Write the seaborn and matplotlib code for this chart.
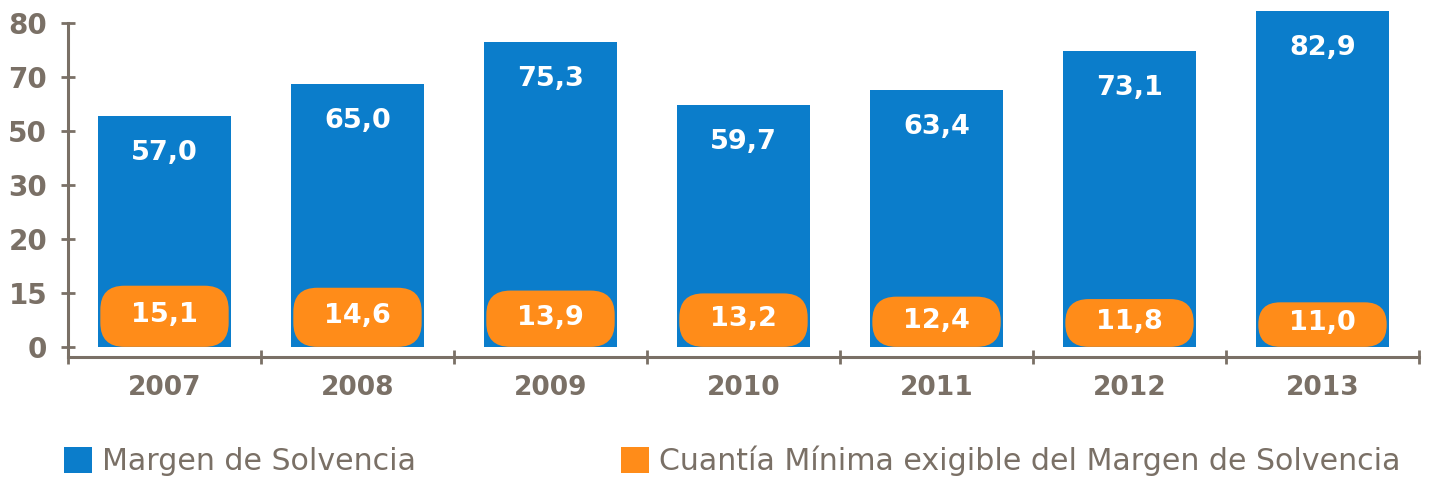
import matplotlib
matplotlib.use('Agg')
import matplotlib.pyplot as plt
import seaborn as sns
import pandas as pd
import numpy as np
from matplotlib.patches import FancyBboxPatch, Patch

# ============================
# Data
# ============================

years = ['2007', '2008', '2009', '2010', '2011', '2012', '2013']
margen = [57.0, 65.0, 75.3, 59.7, 63.4, 73.1, 82.9]
cuantia = [15.1, 14.6, 13.9, 13.2, 12.4, 11.8, 11.0]

ytick_labels = ['0', '15', '20', '30', '50', '70', '80']
legend_labels = ['Margen de Solvencia',
                 'Cuantía Mínima exigible del Margen de Solvencia']

df = pd.DataFrame({'Año': years, 'Margen': margen, 'Cuantia': cuantia})

# ============================
# Style
# ============================

sns.set_theme(style='white')
plt.rcParams['font.family'] = ['DejaVu Sans']

blue = '#0B7DCB'
orange = '#FF8C19'
gray = '#7A7066'

W, H = 1429, 478
fig = plt.figure(figsize=(W / 100, H / 100), dpi=100)

left_px, right_px, top_px, bottom_px = 68, 1419, 5, 357
ax = fig.add_axes([left_px / W, 1 - bottom_px / H,
                   (right_px - left_px) / W, (bottom_px - top_px) / H])

ylo, yhi = -2.5, 84.4
xlo, xhi = -0.5, 6.5

# ============================
# Bars
# ============================

sns.barplot(data=df, x='Año', y='Margen', color=blue, saturation=1,
            width=0.686, linewidth=0, ax=ax)
n_blue = len(ax.patches)
sns.barplot(data=df, x='Año', y='Cuantia', color=orange, saturation=1,
            width=0.665, linewidth=0, ax=ax)

ax.set_xlim(xlo, xhi)
ax.set_ylim(ylo, yhi)

# rounded boxes for the orange series
px_x = (right_px - left_px) / (xhi - xlo)
px_y = (bottom_px - top_px) / (yhi - ylo)
aspect = px_x / px_y
r_px = 24

orange_bars = list(ax.patches[n_blue:])
for p in orange_bars:
    x, y = p.get_x(), p.get_y()
    w, h = p.get_width(), p.get_height()
    p.remove()
    r = min(r_px / px_x, (h / aspect) / 2 * 0.98)
    box = FancyBboxPatch((x, y), w, h,
                         boxstyle=f'round,pad=0,rounding_size={r}',
                         mutation_aspect=aspect,
                         facecolor=orange, edgecolor='none', zorder=3)
    ax.add_patch(box)

# value labels
for i, (m, c) in enumerate(zip(margen, cuantia)):
    ax.annotate(f'{m:.1f}'.replace('.', ','), (i, m),
                xytext=(0, -37), textcoords='offset pixels',
                ha='center', va='center', color='white',
                fontsize=19.5, fontweight='bold', zorder=4)
    ax.text(i, c / 2 + 0.3, f'{c:.1f}'.replace('.', ','),
            ha='center', va='center', color='white',
            fontsize=19.5, fontweight='bold', zorder=4)

# ============================
# Axes
# ============================

ax.set_xlabel('')
ax.set_ylabel('')
ax.set_yticks(np.linspace(0, 80, 7))
ax.set_yticklabels(ytick_labels)
ax.set_xticks(range(len(years)))
ax.set_xticklabels(years)
ax.set_xticks(np.arange(xlo, xhi + 0.01, 1), minor=True)

for s in ['top', 'right']:
    ax.spines[s].set_visible(False)
for s in ['left', 'bottom']:
    ax.spines[s].set_color(gray)
    ax.spines[s].set_linewidth(2.2)
ax.spines['left'].set_bounds(ylo, 80)

ax.tick_params(axis='y', which='major', direction='inout', length=10,
               width=2, color=gray, labelcolor=gray, labelsize=20, pad=10,
               left=True)
ax.tick_params(axis='x', which='major', length=0, labelcolor=gray,
               labelsize=19, pad=13)
ax.tick_params(axis='x', which='minor', direction='inout', length=10,
               width=2, color=gray, bottom=True)
for lab in ax.get_xticklabels() + ax.get_yticklabels():
    lab.set_fontweight('bold')

# ============================
# Legend
# ============================

handles = [Patch(facecolor=blue, edgecolor='none'),
           Patch(facecolor=orange, edgecolor='none')]
leg = fig.legend(handles, legend_labels, loc='center left',
                 bbox_to_anchor=(64 / W, 1 - 461 / H), ncol=2,
                 frameon=False, fontsize=21.6, handlelength=0.93,
                 handleheight=0.93, handletextpad=0.33,
                 columnspacing=6.85, borderpad=0, borderaxespad=0)
for t in leg.get_texts():
    t.set_color(gray)

plt.savefig('out.png', dpi=100)
